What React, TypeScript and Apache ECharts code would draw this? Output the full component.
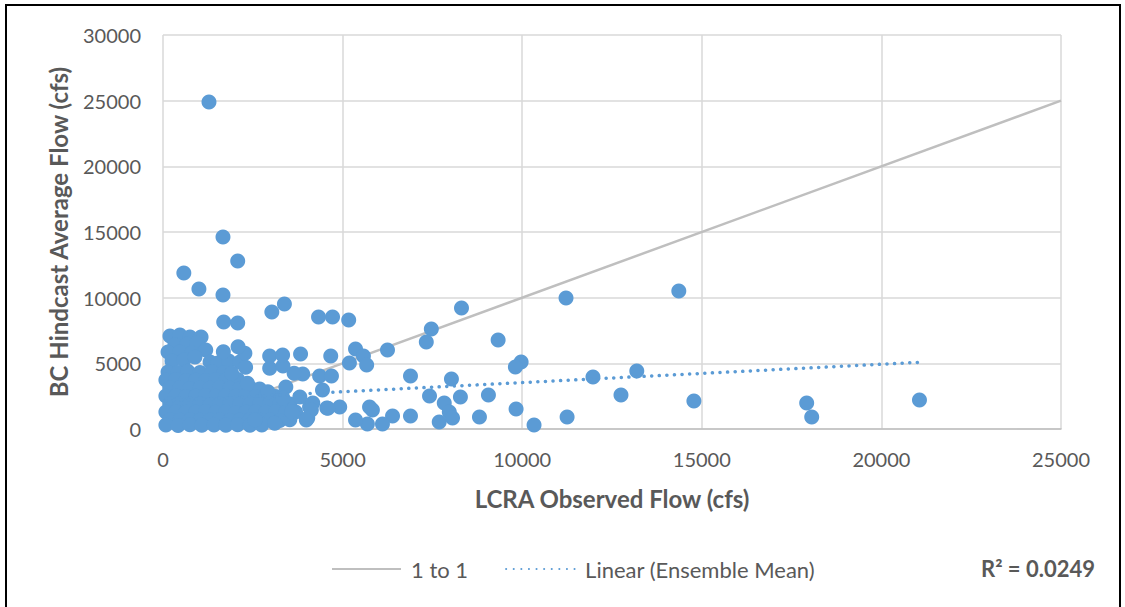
import { useEffect, useRef } from "react";
import * as echarts from "echarts";

// Axis ranges and tick spacing (cfs)
const xAxisRange = [0, 25000];
const yAxisRange = [0, 30000];
const tickStep = 5000;

// Ensemble-mean points away from the low-flow cluster: [observed, hindcast]
const spreadPoints: [number, number][] = [
  [1280, 24900], [1670, 14620], [2080, 12790], [580, 11880], [1000, 10660],
  [1670, 10200], [3380, 9520], [3030, 8910], [4330, 8530], [4720, 8530],
  [5170, 8300], [1690, 8150], [2080, 8070], [8310, 9210], [11220, 9970],
  [14360, 10510], [7470, 7610], [7330, 6620], [9330, 6780], [5360, 6090],
  [6250, 6020], [5580, 5560], [5670, 4870], [5190, 5030], [4670, 5560],
  [3830, 5710], [4360, 4040], [4690, 4040], [3890, 4190], [4440, 2970],
  [6890, 4040], [8030, 3810], [7420, 2510], [8280, 2440], [9060, 2590],
  [7830, 1980], [7970, 1290], [7690, 530], [8060, 840], [8810, 910],
  [6890, 990], [6390, 990], [6110, 380], [5750, 1680], [5830, 1450],
  [5690, 380], [5360, 690], [4920, 1680], [4560, 1600], [4080, 1680],
  [4030, 840], [3810, 2440], [4170, 1980], [9970, 5100], [9810, 4720],
  [11970, 3960], [13190, 4420], [12750, 2590], [14780, 2130], [17920, 1980],
  [18060, 910], [21060, 2210], [9830, 1520], [11250, 910], [10330, 300],
  [3420, 3200], [4590, 1580], [4130, 1450], [3580, 1320], [3990, 690],
  [3110, 430], [2560, 690], [3340, 2340], [2920, 2840], [2350, 3480],
  [3650, 4240], [2970, 4620], [3340, 4800], [2970, 5560], [3330, 5630],
  [2300, 4700], [1910, 4240], [2280, 5760], [2090, 6270], [1680, 5890],
];

// Ensemble-mean points in the dense low-flow cluster: [observed, hindcast]
const clusterPoints: [number, number][] = [
  [194, 7080], [470, 7160], [750, 7000], [1060, 7010], [330, 6400],
  [670, 6470], [940, 6550], [140, 5860], [470, 5870], [810, 5790],
  [1190, 6020], [250, 5180], [580, 5250], [890, 5480], [1310, 5100],
  [1530, 5020], [1830, 5180], [2140, 5100],
  [140, 4340], [420, 4300], [690, 4390], [1030, 4310], [1360, 4360], [1690, 4280],
  [80, 3730], [360, 3760], [640, 3700], [920, 3740], [1190, 3690],
  [1470, 3750], [1750, 3720], [2080, 3770],
  [190, 3120], [470, 3150], [750, 3090], [1030, 3130], [1310, 3100],
  [1580, 3160], [1860, 3110], [2140, 3080], [2420, 3140], [2690, 3050],
  [80, 2510], [360, 2540], [640, 2480], [920, 2520], [1190, 2560],
  [1470, 2490], [1750, 2530], [2030, 2500], [2310, 2550], [2580, 2480],
  [2860, 2520], [3140, 2470],
  [190, 1900], [470, 1930], [750, 1880], [1030, 1920], [1310, 1870],
  [1580, 1910], [1860, 1950], [2140, 1890], [2420, 1910], [2690, 1860],
  [2970, 1920], [3250, 1880], [3530, 1900],
  [80, 1290], [360, 1320], [640, 1270], [920, 1300], [1190, 1330],
  [1470, 1280], [1750, 1310], [2030, 1260], [2310, 1300], [2580, 1320],
  [2860, 1280], [3140, 1310], [3420, 1270], [3690, 1300],
  [190, 690], [470, 660], [750, 700], [1030, 670], [1310, 690],
  [1580, 710], [1860, 660], [2140, 680], [2420, 700], [2690, 670],
  [2970, 690], [3250, 650], [3530, 700],
  [80, 300], [420, 270], [750, 320], [1080, 290], [1420, 310],
  [1750, 280], [2080, 330], [2420, 290], [2750, 310],
];

// Reference line and fitted trend endpoints: [observed, hindcast]
const oneToOne: [number, number][] = [[0, 0], [25000, 25000]];
const linearTrend: [number, number][] = [[80, 2150], [21060, 5080]];
const rSquaredLabel = "R² = 0.0249";

const textColor = "#595959";
const pointColor = "#5b9bd5";
const lineGray = "#bfbfbf";
const fontFamily = "Lato, 'Open Sans', sans-serif";

export default function App() {
  const ref = useRef<HTMLDivElement>(null);

  useEffect(() => {
    if (!ref.current) return;
    const chart = echarts.init(ref.current, undefined, { renderer: "svg" });
    const plainNumber = (v: number) => String(v);
    chart.setOption({
      animation: false,
      backgroundColor: "#ffffff",
      textStyle: { fontFamily },
      grid: { left: 163, top: 35, width: 898, height: 394 },
      xAxis: {
        type: "value",
        min: xAxisRange[0],
        max: xAxisRange[1],
        interval: tickStep,
        name: "LCRA Observed Flow (cfs)",
        nameLocation: "middle",
        nameGap: 57,
        nameTextStyle: { color: textColor, fontSize: 24, fontWeight: "bold", fontFamily },
        axisLine: { show: true, lineStyle: { color: lineGray, width: 1.5 } },
        axisTick: { show: false },
        axisLabel: { color: textColor, fontSize: 20, margin: 20, fontFamily, formatter: plainNumber },
        splitLine: { show: true, lineStyle: { color: "#d9d9d9", width: 1.5 } },
      },
      yAxis: {
        type: "value",
        min: yAxisRange[0],
        max: yAxisRange[1],
        interval: tickStep,
        name: "BC Hindcast Average Flow (cfs)",
        nameLocation: "middle",
        nameGap: 93,
        nameTextStyle: { color: textColor, fontSize: 24, fontWeight: "bold", fontFamily },
        axisLine: { show: false },
        axisTick: { show: false },
        axisLabel: { color: textColor, fontSize: 20, margin: 22, fontFamily, formatter: plainNumber },
        splitLine: { show: true, lineStyle: { color: "#d9d9d9", width: 1.5 } },
      },
      legend: {
        left: 326,
        top: 553,
        itemWidth: 69,
        itemHeight: 14,
        itemGap: 37,
        itemStyle: { opacity: 0 },
        textStyle: { color: textColor, fontSize: 22, fontFamily, padding: [0, 0, 0, 5] },
        data: ["1 to 1", "Linear (Ensemble Mean)"],
      },
      graphic: [
        {
          type: "rect",
          shape: { x: 6, y: 5, width: 1114, height: 640 },
          style: { fill: "none", stroke: "#000000", lineWidth: 2 },
          silent: true,
        },
        {
          type: "text",
          left: 981,
          top: 557,
          style: {
            text: rSquaredLabel,
            fill: textColor,
            font: `bold 22px ${fontFamily}`,
          },
        },
      ],
      series: [
        {
          name: "1 to 1",
          type: "line",
          data: oneToOne,
          symbol: "none",
          z: 1,
          lineStyle: { color: lineGray, width: 2.5 },
          itemStyle: { color: lineGray },
        },
        {
          name: "Ensemble Mean",
          type: "scatter",
          data: [...clusterPoints, ...spreadPoints],
          symbol: "circle",
          symbolSize: 15,
          z: 2,
          itemStyle: { color: pointColor, opacity: 1 },
        },
        {
          name: "Linear (Ensemble Mean)",
          type: "line",
          data: linearTrend,
          symbol: "none",
          z: 3,
          lineStyle: { color: pointColor, width: 3.5, type: [0.1, 7.5], cap: "round" },
          itemStyle: { color: pointColor },
        },
      ],
    });
    return () => chart.dispose();
  }, []);

  return (
    <div style={{ position: "fixed", left: 0, top: 0, width: 1125, height: 607, background: "#fff" }}>
      <div ref={ref} style={{ width: 1125, height: 607 }} />
    </div>
  );
}
